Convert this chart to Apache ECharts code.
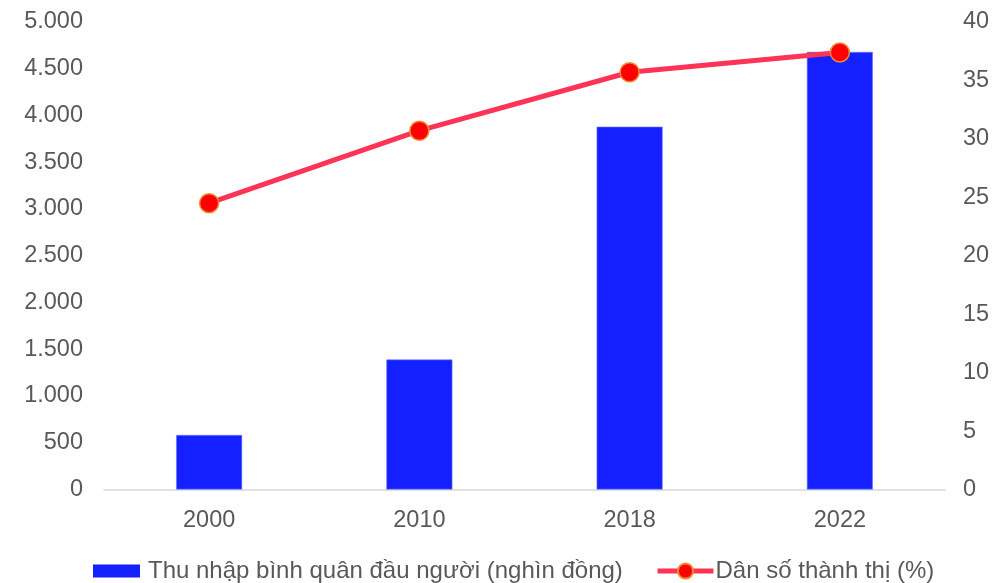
<!DOCTYPE html>
<html>
<head>
<meta charset="utf-8">
<script src="https://cdn.jsdelivr.net/npm/echarts@6/dist/echarts.min.js"></script>
<style>
  html, body { margin: 0; padding: 0; background: #fff; }
  #chart { width: 999px; height: 583px; }
</style>
</head>
<body>
<div id="chart"></div>
<script>
// Years on the category axis
const years = ['2000', '2010', '2018', '2022'];
// Per-capita income (thousand VND)
const incomeValues = [583, 1390, 3880, 4680];
// Urban population share (%)
const urbanShare = [24.5, 30.7, 35.7, 37.4];

const incomeName = 'Thu nhập bình quân đầu người (nghìn đồng)';
const urbanName = 'Dân số thành thị (%)';

const labelFont = { fontFamily: 'Liberation Sans, Arial, sans-serif', fontSize: 23.5, color: '#595959' };
const legendFont = Object.assign({}, labelFont, { fontSize: 24 });

const chart = echarts.init(document.getElementById('chart'), null, { renderer: 'canvas' });

chart.setOption({
  animation: false,
  backgroundColor: '#ffffff',
  grid: { left: 104, right: 54, top: 22, bottom: 93.5, containLabel: false },
  // Two legend blocks so the bar swatch and the line-with-marker icon can have different sizes
  legend: [
    {
      top: 559,
      left: 93,
      padding: 0,
      itemWidth: 47,
      itemHeight: 13,
      textStyle: Object.assign({}, legendFont, { padding: [0, 0, 0, 3] }),
      data: [{ name: incomeName, icon: 'rect', itemStyle: { borderWidth: 0 } }]
    },
    {
      top: 559,
      left: 655,
      padding: 0,
      itemWidth: 56,
      itemHeight: 19,
      textStyle: Object.assign({}, legendFont, { padding: [0, 0, 0, -3] }),
      data: [{ name: urbanName, lineStyle: { width: 5 } }]
    }
  ],
  xAxis: {
    type: 'category',
    data: years,
    axisTick: { show: false },
    axisLine: { lineStyle: { color: '#D9D9D9', width: 1.5 } },
    axisLabel: Object.assign({}, labelFont, { margin: 19 })
  },
  yAxis: [
    {
      type: 'value',
      min: 0, max: 5000, interval: 500,
      splitLine: { show: false },
      axisLine: { show: false },
      axisTick: { show: false },
      axisLabel: Object.assign({}, labelFont, {
        margin: 21,
        formatter: v => String(v).replace(/\B(?=(\d{3})+(?!\d))/g, '.')
      })
    },
    {
      type: 'value',
      min: 0, max: 40, interval: 5,
      position: 'right',
      splitLine: { show: false },
      axisLine: { show: false },
      axisTick: { show: false },
      axisLabel: Object.assign({}, labelFont, { margin: 18 })
    }
  ],
  series: [
    {
      name: incomeName,
      type: 'bar',
      data: incomeValues,
      barWidth: 66,
      itemStyle: { color: '#1420FF', borderColor: '#6C78FF', borderWidth: 0.6 }
    },
    {
      name: urbanName,
      type: 'line',
      yAxisIndex: 1,
      data: urbanShare,
      symbol: 'circle',
      symbolSize: 19,
      lineStyle: { color: '#FF3355', width: 5 },
      itemStyle: { color: '#FF0000', borderColor: '#F08A30', borderWidth: 1.5 },
      z: 3
    }
  ]
});
</script>
</body>
</html>
